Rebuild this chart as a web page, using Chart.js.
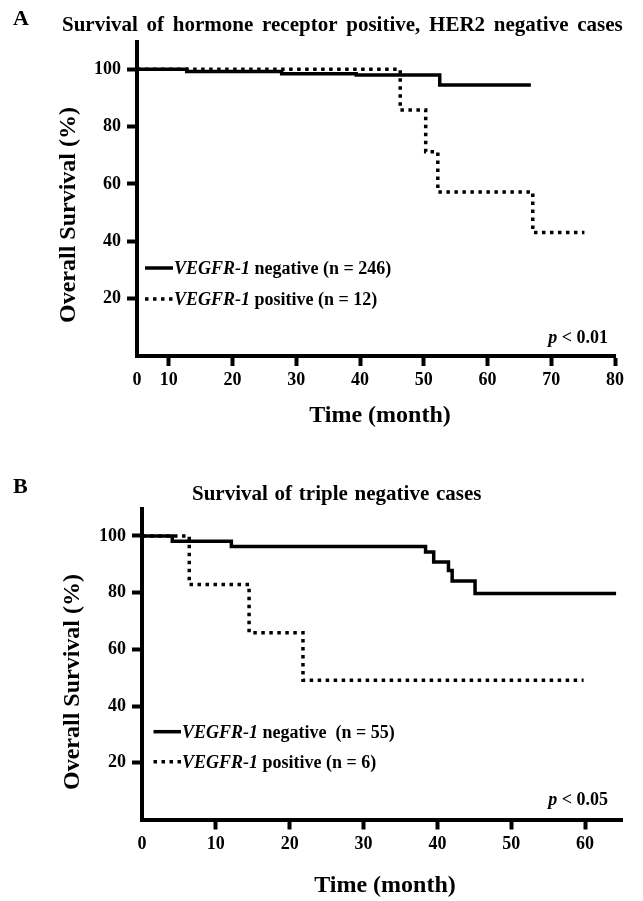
<!DOCTYPE html>
<html>
<head>
<meta charset="utf-8">
<script src="https://cdn.jsdelivr.net/npm/chart.js@4.4.1/dist/chart.umd.min.js"></script>
<style>
    html, body { margin: 0; padding: 0; background: #fff; }
    body { width: 643px; height: 901px; position: relative; overflow: hidden; }
    canvas { position: absolute; left: 0; }
    #chartA { top: 0; }
    #chartB { top: 450px; }
</style>
</head>
<body>
<canvas id="chartA" width="643" height="450"></canvas>
<canvas id="chartB" width="643" height="451"></canvas>
<script>
const FONT = '"Liberation Serif", "Times New Roman", serif';

// --- panel A : hormone receptor positive, HER2 negative ---
const titleA = 'Survival of hormone receptor positive, HER2 negative cases';
const monthsNegA = [0, 12.8, 27.7, 39.4, 52.5, 66.8];
const survNegA = [100, 99.2, 98.4, 98.0, 94.5, 94.5];
const monthsPosA = [0, 46.3, 50.3, 52.2, 67.1, 75.2];
const survPosA = [100, 85.8, 71.2, 57.2, 43.1, 43.1];
const xTicksA = [0, 10, 20, 30, 40, 50, 60, 70, 80];
const legendA = ['negative (n = 246)', 'positive (n = 12)'];
const pValueA = '< 0.01';

// --- panel B : triple negative ---
const titleB = 'Survival of triple negative cases';
const monthsNegB = [0, 4.1, 12.1, 38.4, 39.5, 41.5, 42.0, 45.1, 64.2];
const survNegB = [100, 98.1, 96.3, 94.3, 90.8, 87.8, 84.1, 79.7, 79.7];
const monthsPosB = [0, 6.4, 14.5, 21.8, 59.8];
const survPosB = [100, 82.9, 65.9, 49.1, 49.1];
const xTicksB = [0, 10, 20, 30, 40, 50, 60];
const legendB = ['negative  (n = 55)', 'positive (n = 6)'];
const pValueB = '< 0.05';

const yTicks = [20, 40, 60, 80, 100];
const geneName = 'VEGFR-1';

const toPoints = (xs, ys) => xs.map((x, i) => ({x: x, y: ys[i]}));

const drawRich = (ctx, x, y, parts, size, align) => {
    const fonts = parts.map(p => (p.it ? 'italic ' : '') + 'bold ' + size + 'px ' + FONT);
    const widths = parts.map((p, i) => {
        ctx.font = fonts[i];
        return ctx.measureText(p.t).width;
    });
    const total = widths.reduce((a, b) => a + b, 0);
    let cx = align === 'right' ? x - total : (align === 'center' ? x - total / 2 : x);
    ctx.textAlign = 'left';
    ctx.textBaseline = 'alphabetic';
    parts.forEach((p, i) => {
        ctx.font = fonts[i];
        ctx.fillText(p.t, cx, y);
        cx += widths[i];
    });
};

// texts around the plot: letter, title, axis titles, legend, p value
const annot = {
    id: 'annot',
    afterDraw(chart, args, o) {
        const ctx = chart.ctx;
        const sets = chart.data.datasets;
        ctx.save();
        ctx.fillStyle = '#000';

        ctx.font = 'bold 22px ' + FONT;
        ctx.textAlign = 'left';
        ctx.textBaseline = 'alphabetic';
        ctx.fillText(o.letter, o.letterPos[0], o.letterPos[1]);

        ctx.font = 'bold 21px ' + FONT;
        if ('wordSpacing' in ctx) ctx.wordSpacing = o.titleGap;
        ctx.fillText(o.title, o.titlePos[0], o.titlePos[1]);
        if ('wordSpacing' in ctx) ctx.wordSpacing = '0px';

        ctx.font = 'bold 24px ' + FONT;
        ctx.textAlign = 'center';
        ctx.fillText('Time (month)', o.xTitlePos[0], o.xTitlePos[1]);

        ctx.save();
        ctx.translate(o.yTitlePos[0], o.yTitlePos[1]);
        ctx.rotate(-Math.PI / 2);
        ctx.fillText('Overall Survival (%)', 0, 0);
        ctx.restore();

        // legend rows: solid (negative) then dotted (positive)
        [0, 1].forEach(i => {
            const ds = sets[i];
            const y = o.legendY[i];
            ctx.beginPath();
            ctx.lineWidth = ds.borderWidth;
            ctx.strokeStyle = '#000';
            ctx.setLineDash(ds.borderDash || []);
            ctx.moveTo(o.legendX[0], y);
            ctx.lineTo(o.legendX[1], y);
            ctx.stroke();
            ctx.setLineDash([]);
            drawRich(ctx, o.legendX[1] + 1, y + 6,
                [{t: geneName, it: true}, {t: ' ' + o.legend[i]}], 18, 'left');
        });

        drawRich(ctx, o.pPos[0], o.pPos[1], [{t: 'p', it: true}, {t: ' ' + o.p}], 18, 'right');
        ctx.restore();
    }
};

const makeChart = (id, p) => {
    const ctx = document.getElementById(id).getContext('2d');
    return new Chart(ctx, {
        type: 'line',
        data: {
            datasets: [{
                label: 'negative',
                data: toPoints(p.negX, p.negY),
                borderColor: '#000',
                borderWidth: 3.5,
                stepped: true,
                pointRadius: 0,
                fill: false
            }, {
                label: 'positive',
                data: toPoints(p.posX, p.posY),
                borderColor: '#000',
                borderWidth: 3.5,
                borderDash: [3.5, 4.5],
                stepped: true,
                pointRadius: 0,
                fill: false
            }]
        },
        options: {
            responsive: false,
            animation: false,
            events: [],
            layout: {padding: {top: p.area.top, right: p.area.right, bottom: 0, left: 0}},
            plugins: {
                legend: {display: false},
                tooltip: {enabled: false},
                annot: p.annot
            },
            scales: {
                x: {
                    type: 'linear',
                    min: p.xMin,
                    max: p.xMax,
                    afterBuildTicks: axis => {
                        axis.ticks = p.xTicks.map(v => ({value: Math.max(v, p.xMin)}));
                    },
                    afterFit: axis => { axis.height = p.area.xHeight; },
                    ticks: {
                        autoSkip: false,
                        maxRotation: 0,
                        padding: 4,
                        color: '#000',
                        font: {family: FONT, size: 18, weight: 'bold'},
                        callback: (v, i) => p.xTicks[i]
                    },
                    grid: {
                        drawOnChartArea: false,
                        tickLength: 10,
                        tickWidth: 4,
                        tickColor: c => c.index === 0 ? 'rgba(0,0,0,0)' : '#000'
                    },
                    border: {width: 4, color: '#000'}
                },
                y: {
                    type: 'linear',
                    min: 0,
                    max: 109.5,
                    afterBuildTicks: axis => {
                        axis.ticks = yTicks.map(v => ({value: v}));
                    },
                    afterFit: axis => { axis.width = p.area.left; },
                    ticks: {
                        padding: 6,
                        color: '#000',
                        font: {family: FONT, size: 18, weight: 'bold'}
                    },
                    grid: {
                        drawOnChartArea: false,
                        tickLength: 10,
                        tickWidth: 4,
                        tickColor: '#000'
                    },
                    border: {width: 4, color: '#000'}
                }
            }
        },
        plugins: [annot]
    });
};

window.onload = () => {
    makeChart('chartA', {
        negX: monthsNegA, negY: survNegA, posX: monthsPosA, posY: survPosA,
        xTicks: xTicksA, xMin: 5, xMax: 80,
        area: {left: 137, top: 42, right: 28, xHeight: 94},
        annot: {
            letter: 'A', letterPos: [13, 25],
            title: titleA, titlePos: [62, 31], titleGap: '3.5px',
            xTitlePos: [380, 422], yTitlePos: [75, 215],
            legend: legendA, legendX: [145, 173], legendY: [268, 299],
            p: pValueA, pPos: [608, 343]
        }
    });
    makeChart('chartB', {
        negX: monthsNegB, negY: survNegB, posX: monthsPosB, posY: survPosB,
        xTicks: xTicksB, xMin: 0, xMax: 65,
        area: {left: 142, top: 59, right: 21, xHeight: 81.5},
        annot: {
            letter: 'B', letterPos: [13, 43],
            title: titleB, titlePos: [192, 50], titleGap: '1.5px',
            xTitlePos: [385, 442], yTitlePos: [79, 232],
            legend: legendB, legendX: [153.5, 181], legendY: [281.7, 311.7],
            p: pValueB, pPos: [608, 355]
        }
    });
};
</script>
</body>
</html>
